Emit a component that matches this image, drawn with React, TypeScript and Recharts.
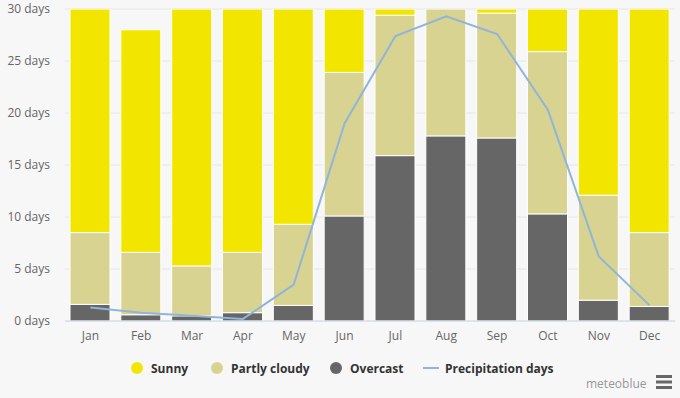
import React from 'react';
import { ComposedChart, Bar, Line, XAxis, YAxis, CartesianGrid } from 'recharts';

const months = ['Jan', 'Feb', 'Mar', 'Apr', 'May', 'Jun', 'Jul', 'Aug', 'Sep', 'Oct', 'Nov', 'Dec'];
const overcast = [1.6, 0.6, 0.5, 0.8, 1.5, 10.1, 15.9, 17.8, 17.6, 10.3, 2.0, 1.4];
const partlyCloudy = [6.9, 6.0, 4.8, 5.8, 7.8, 13.8, 13.5, 12.8, 12.0, 15.6, 10.1, 7.1];
const sunny = [22.5, 21.4, 25.7, 23.4, 21.7, 6.1, 1.6, 0.4, 0.4, 5.1, 17.9, 22.5];
const precipitation = [1.3, 0.8, 0.5, 0.2, 3.5, 19.0, 27.4, 29.3, 27.6, 20.3, 6.2, 1.5];
const yTicks = [0, 5, 10, 15, 20, 25, 30];

const data = months.map((m, i) => ({
  month: m,
  overcast: overcast[i],
  partly: partlyCloudy[i],
  sunny: sunny[i],
  precip: precipitation[i],
}));

const font = '"Open Sans", "Liberation Sans", sans-serif';

const legendItems = [
  { label: 'Sunny', color: '#f2e600', type: 'circle', x: 131 },
  { label: 'Partly cloudy', color: '#d8d390', type: 'circle', x: 211 },
  { label: 'Overcast', color: '#666666', type: 'circle', x: 330 },
  { label: 'Precipitation days', color: '#8fb5da', type: 'line', x: 423 },
];

export default function App() {
  return (
    <div style={{ position: 'absolute', left: 0, top: 0, width: 680, height: 398, background: '#f7f7f7', fontFamily: font }}>
      <ComposedChart width={680} height={398} data={data} margin={{ top: 9, right: 5, left: 0, bottom: 47 }}>
        <CartesianGrid horizontal vertical={false} stroke="#e6e6e6" />
        <XAxis
          dataKey="month"
          height={30}
          tickLine={false}
          tickSize={0}
          tickMargin={10}
          axisLine={{ stroke: '#ccd6eb' }}
          tick={{ fill: '#666666', fontSize: 12, fontFamily: font }}
        />
        <YAxis
          width={65}
          domain={[0, 30]}
          ticks={yTicks}
          allowDataOverflow
          axisLine={false}
          tickLine={false}
          tickSize={0}
          tickMargin={15}
          tickFormatter={(v: number) => `${v} days`}
          tick={{ fill: '#666666', fontSize: 12, fontFamily: font }}
        />
        <Bar dataKey="overcast" stackId="a" fill="#666666" stroke="#ffffff" strokeWidth={1} barSize={40} isAnimationActive={false} />
        <Bar dataKey="partly" stackId="a" fill="#d8d390" stroke="#ffffff" strokeWidth={1} barSize={40} isAnimationActive={false} />
        <Bar dataKey="sunny" stackId="a" fill="#f2e600" stroke="#ffffff" strokeWidth={1} barSize={40} isAnimationActive={false} />
        <Line dataKey="precip" type="linear" stroke="#8fb5da" strokeWidth={2} dot={false} activeDot={false} isAnimationActive={false} />
      </ComposedChart>
      {legendItems.map((it) => (
        <div key={it.label} style={{ position: 'absolute', left: it.x, top: 360, height: 16, display: 'flex', alignItems: 'center' }}>
          {it.type === 'circle' ? (
            <span style={{ width: 12, height: 12, borderRadius: 6, background: it.color, display: 'inline-block' }} />
          ) : (
            <span style={{ width: 16, height: 2, background: it.color, display: 'inline-block' }} />
          )}
          <span style={{ marginLeft: it.type === 'circle' ? 8 : 6, fontSize: 12, fontWeight: 700, color: '#333333' }}>{it.label}</span>
        </div>
      ))}
      <div style={{ position: 'absolute', left: 586, top: 375, fontSize: 12, color: '#999999' }}>meteoblue</div>
      <svg style={{ position: 'absolute', left: 656, top: 375 }} width={16} height={14}>
        <rect x={0} y={0} width={16} height={3} fill="#666666" />
        <rect x={0} y={5.5} width={16} height={3} fill="#666666" />
        <rect x={0} y={11} width={16} height={3} fill="#666666" />
      </svg>
    </div>
  );
}
